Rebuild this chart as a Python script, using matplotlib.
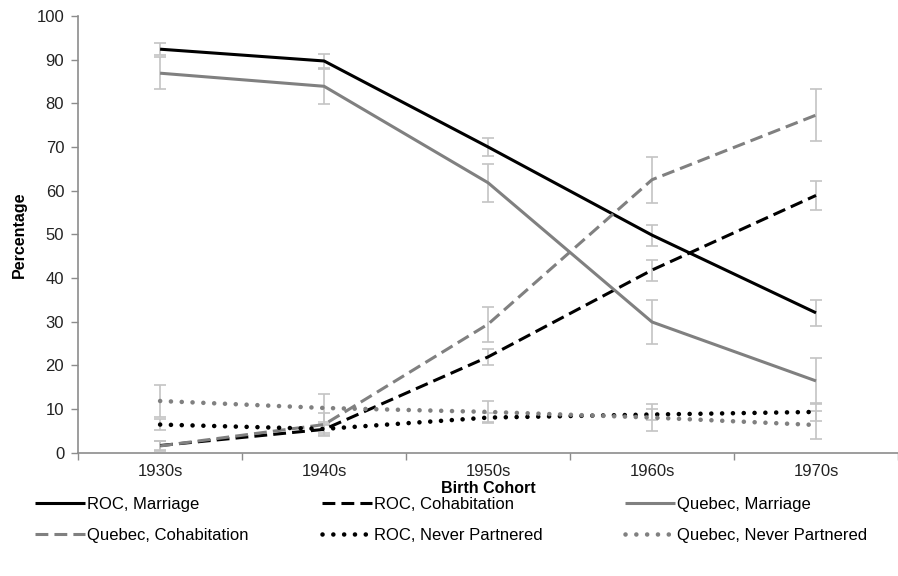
import matplotlib
matplotlib.use("Agg")
import matplotlib.pyplot as plt
import numpy as np

# values
cohorts = ["1930s", "1940s", "1950s", "1960s", "1970s"]

roc_marriage = [92.4, 89.7, 70.0, 49.8, 32.0]
roc_marriage_err = [1.4, 1.6, 2.1, 2.4, 3.0]
roc_cohab = [1.6, 5.3, 21.9, 41.8, 58.9]
roc_cohab_err = [1.0, 1.2, 1.9, 2.4, 3.3]
qc_marriage = [86.9, 83.9, 61.8, 29.9, 16.4]
qc_marriage_err = [3.6, 4.0, 4.4, 5.0, 5.3]
qc_cohab = [1.5, 6.4, 29.4, 62.5, 77.3]
qc_cohab_err = [1.1, 2.6, 4.0, 5.3, 5.9]
roc_never = [6.4, 5.4, 8.0, 8.7, 9.3]
roc_never_err = [1.2, 1.0, 1.0, 1.2, 2.1]
qc_never = [11.8, 10.2, 9.3, 8.0, 6.3]
qc_never_err = [3.6, 3.2, 2.6, 3.0, 3.2]

plt.rcParams["font.family"] = ["Liberation Sans", "DejaVu Sans"]

BLACK = "#000000"
GRAY = "#808080"
ERR = "#c4c4c4"
AXIS = "#8c8c8c"

series = [
    ("ROC, Marriage", roc_marriage, roc_marriage_err, BLACK, "solid"),
    ("ROC, Cohabitation", roc_cohab, roc_cohab_err, BLACK, "dash"),
    ("Quebec, Marriage", qc_marriage, qc_marriage_err, GRAY, "solid"),
    ("Quebec, Cohabitation", qc_cohab, qc_cohab_err, GRAY, "dash"),
    ("ROC, Never Partnered", roc_never, roc_never_err, BLACK, "dot"),
    ("Quebec, Never Partnered", qc_never, qc_never_err, GRAY, "dot"),
]

W, H = 898, 576
fig = plt.figure(figsize=(W / 100, H / 100), dpi=100)
ax = fig.add_axes([0.087, 0.2144, 0.913, 0.7578])

x = np.arange(len(cohorts))
lw = 2.2
handles = {}
for label, vals, err, color, style in series:
    ax.errorbar(x, vals, yerr=err, fmt="none", ecolor=ERR, elinewidth=1.2,
                capsize=4, capthick=1.2, zorder=2)
    if style == "solid":
        (ln,) = ax.plot(x, vals, color=color, lw=lw, solid_capstyle="butt", zorder=3, label=label)
    elif style == "dash":
        (ln,) = ax.plot(x, vals, color=color, lw=lw, zorder=3, label=label)
        ln.set_dashes((4.2, 2.0))
    else:
        (ln,) = ax.plot(x, vals, color=color, lw=3.3, zorder=3, label=label,
                        dash_capstyle="round")
        ln.set_dashes((0.01, 2.35))
    handles[label] = ln

ax.set_xlim(-0.5, len(cohorts) - 0.5)
ax.set_ylim(0, 100)
ax.set_yticks(np.arange(0, 101, 10))
ax.set_xticks(x)
ax.set_xticklabels(cohorts)
ax.set_xticks(np.arange(-0.5, len(cohorts)), minor=True)
ax.tick_params(axis="x", which="major", length=0, pad=8, labelsize=12, labelcolor="#222222")
ax.tick_params(axis="x", which="minor", length=5, color=AXIS, width=1)
ax.tick_params(axis="y", length=5, color=AXIS, width=1, labelsize=12, labelcolor="#222222", pad=5)

for side in ["top", "right"]:
    ax.spines[side].set_visible(False)
for side in ["left", "bottom"]:
    ax.spines[side].set_color(AXIS)
    ax.spines[side].set_linewidth(1.2)

ax.set_ylabel("Percentage", fontsize=11.5, fontweight="bold", labelpad=7)
ax.set_xlabel("Birth Cohort", fontsize=11.5, fontweight="bold")
ax.xaxis.set_label_coords(0.5, -0.066)

# legend: three columns placed like the original, two rows each
columns = [
    ["ROC, Marriage", "Quebec, Cohabitation"],
    ["ROC, Cohabitation", "ROC, Never Partnered"],
    ["Quebec, Marriage", "Quebec, Never Partnered"],
]
col_left = [35, 322, 625]
for left, labels in zip(col_left, columns):
    fig.legend([handles[k] for k in labels], labels, loc="upper left",
               bbox_to_anchor=(left / W, 1 - 497 / H), frameon=False,
               borderpad=0, borderaxespad=0, handlelength=3.0,
               handletextpad=0.1, labelspacing=0.95, fontsize=12)

fig.savefig("out.png", dpi=100)
